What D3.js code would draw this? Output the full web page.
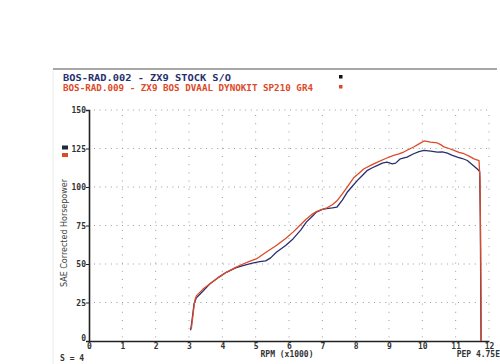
<!DOCTYPE html>
<html>
<head>
<meta charset="utf-8">
<script src="https://cdn.jsdelivr.net/npm/d3@7"></script>
<style>
  body { margin: 0; background: #fff; }
  svg { display: block; }
</style>
</head>
<body>
<svg id="chart" width="500" height="364"></svg>
<script>
// Dyno run data: RPM (x1000) vs SAE corrected horsepower
const stockRpm = [3.05, 3.10, 3.15, 3.22, 3.4, 3.62, 3.9, 4.12, 4.4, 4.62, 4.9, 5.12, 5.3, 5.45, 5.62, 5.9, 6.12, 6.35, 6.52, 6.7, 6.82, 7.0, 7.12, 7.3, 7.44, 7.6, 7.74, 7.9, 8.04, 8.2, 8.34, 8.5, 8.64, 8.8, 8.94, 9.1, 9.2, 9.34, 9.54, 9.74, 9.9, 10.05, 10.25, 10.45, 10.6, 10.75, 10.9, 11.05, 11.2, 11.35, 11.5, 11.65, 11.72, 11.74, 11.75, 11.76];
const stockHp = [7, 15, 24, 28, 32, 37, 41.5, 44.6, 47.5, 49, 50.5, 51.5, 52, 54, 57.6, 62, 66.3, 72, 77.2, 81, 83.7, 85.5, 86, 86.5, 87, 91.5, 96.4, 100.5, 104, 107.5, 110.6, 112.5, 113.9, 115.5, 116.1, 115, 115.5, 118.3, 119.4, 121.6, 123, 123.8, 123.3, 122.7, 122.8, 122, 120.5, 119.4, 118.5, 117.2, 114.5, 111.7, 110, 80, 40, 0];

const kitRpm = [3.07, 3.12, 3.17, 3.22, 3.42, 3.62, 3.9, 4.12, 4.4, 4.62, 4.85, 5.02, 5.3, 5.62, 5.9, 6.12, 6.3, 6.49, 6.7, 6.82, 7.0, 7.14, 7.3, 7.44, 7.6, 7.74, 7.94, 8.1, 8.24, 8.45, 8.64, 8.9, 9.14, 9.3, 9.44, 9.6, 9.74, 9.9, 10.05, 10.25, 10.45, 10.55, 10.65, 10.8, 10.95, 11.1, 11.25, 11.4, 11.55, 11.7, 11.73, 11.75, 11.77];
const kitHp = [8, 17, 26, 29.3, 33.7, 37, 41.5, 44.6, 47.8, 50, 52, 53.3, 57.5, 62, 66.5, 70.7, 74.5, 78.6, 82.5, 84, 85.5, 86.5, 88.5, 91, 95.5, 99.7, 106, 109, 111.7, 114, 116, 118.5, 120.5, 121.5, 122.7, 124.5, 126, 128, 129.9, 129.2, 128.6, 127.5, 126, 125, 123.8, 122.5, 121.6, 120, 118.3, 117.2, 105, 60, 0];

const xTicks = [0, 1, 2, 3, 4, 5, 6, 7, 8, 9, 10, 11, 12];
const yTicks = [0, 25, 50, 75, 100, 125, 150];
const runTitles = ["BOS-RAD.002 - ZX9 STOCK S/O", "BOS-RAD.009 - ZX9 BOS DVAAL  DYNOKIT SP210 GR4"];
const runColors = ["#27306e", "#dd4a28"];

// SVG setup
const svg = d3.select("#chart");
const plot = { left: 89, right: 489, top: 110, bottom: 341 };
const mono = "'DejaVu Sans Mono', monospace";

// Scales
const x = d3.scaleLinear().domain([0, 12]).range([plot.left, plot.right]);
const y = d3.scaleLinear().domain([0, 150]).range([plot.bottom, plot.top]);

// Header rule, faint page edge and run titles
svg.append("line")
  .attr("x1", 53).attr("x2", 53).attr("y1", 69).attr("y2", 364)
  .attr("stroke", "#ececec").attr("stroke-width", 1);
svg.append("line")
  .attr("x1", 53).attr("x2", 497).attr("y1", 69).attr("y2", 69)
  .attr("stroke", "#8a8a8a").attr("stroke-width", 1.5);

const titleEnds = [231, 313];
runTitles.forEach((t, i) => {
  svg.append("text")
    .attr("x", 63).attr("y", 80.5 + i * 10.5)
    .attr("textLength", titleEnds[i] - 63)
    .attr("lengthAdjust", "spacingAndGlyphs")
    .attr("font-family", mono).attr("font-size", 9).attr("font-weight", "bold")
    .attr("fill", runColors[i])
    .text(t);
  // small marker squares at right of titles
  svg.append("rect")
    .attr("x", 339).attr("y", 75 + i * 10).attr("width", 3.5).attr("height", 3.5)
    .attr("fill", i === 0 ? "#111" : runColors[1]);
});

// Dotted grid
svg.append("g").selectAll("line")
  .data(yTicks.filter(d => d > 0))
  .join("line")
  .attr("x1", plot.left + 5).attr("x2", x(12) + 2)
  .attr("y1", d => y(d)).attr("y2", d => y(d))
  .attr("stroke", "#9a9a9a").attr("stroke-width", 1)
  .attr("stroke-dasharray", "1,4.6");

svg.append("g").selectAll("line")
  .data(xTicks.filter(d => d > 0))
  .join("line")
  .attr("x1", d => x(d)).attr("x2", d => x(d))
  .attr("y1", plot.top + 5).attr("y2", plot.bottom - 3)
  .attr("stroke", "#9a9a9a").attr("stroke-width", 1)
  .attr("stroke-dasharray", "1,7.2");

// Axes
const xAxis = svg.append("g")
  .attr("transform", `translate(0,${plot.bottom})`)
  .call(d3.axisBottom(x).tickValues(xTicks).tickSize(0).tickPadding(2));
const yAxis = svg.append("g")
  .attr("transform", `translate(${plot.left},0)`)
  .call(d3.axisLeft(y).tickValues(yTicks).tickSize(3).tickPadding(0));

[xAxis, yAxis].forEach(g => {
  g.select(".domain").attr("stroke", "#222").attr("stroke-width", 1.6);
  g.selectAll("text")
    .attr("font-family", mono).attr("font-size", 8).attr("font-weight", "bold")
    .attr("fill", "#333");
});
yAxis.selectAll(".tick line").attr("stroke", "#222");
yAxis.selectAll(".tick").filter(d => d === 0).select("text").attr("dy", "-0.1em");

// Axis titles and footer text
svg.append("text")
  .attr("transform", "translate(67,233) rotate(-90)")
  .attr("text-anchor", "middle")
  .attr("font-family", "'DejaVu Sans', sans-serif").attr("font-size", 8)
  .attr("fill", "#444")
  .text("SAE Corrected Horsepower");

svg.append("text").attr("x", 60).attr("y", 361)
  .attr("font-family", mono).attr("font-size", 8).attr("font-weight", "bold").attr("fill", "#333")
  .text("S = 4");
svg.append("text").attr("x", 287).attr("y", 357).attr("text-anchor", "middle")
  .attr("font-family", mono).attr("font-size", 8).attr("font-weight", "bold").attr("fill", "#333")
  .text("RPM (x1000)");
svg.append("text").attr("x", 500).attr("y", 357).attr("text-anchor", "end")
  .attr("font-family", mono).attr("font-size", 8).attr("font-weight", "bold").attr("fill", "#333")
  .text("PEP 4.75E");

// Legend swatches by the y axis
runColors.forEach((c, i) => {
  svg.append("rect")
    .attr("x", 62).attr("y", 145.5 + i * 7.5).attr("width", 6).attr("height", 4)
    .attr("fill", i === 0 ? "#1e2a3a" : c);
});

// Power curves
const line = d3.line().x(d => x(d[0])).y(d => y(d[1]));
const runs = [
  d3.zip(stockRpm, stockHp),
  d3.zip(kitRpm, kitHp)
];
svg.append("g").selectAll("path")
  .data(runs)
  .join("path")
  .attr("d", line)
  .attr("fill", "none")
  .attr("stroke", (d, i) => runColors[i])
  .attr("stroke-width", 1.3)
  .attr("stroke-linejoin", "round");
</script>
</body>
</html>
